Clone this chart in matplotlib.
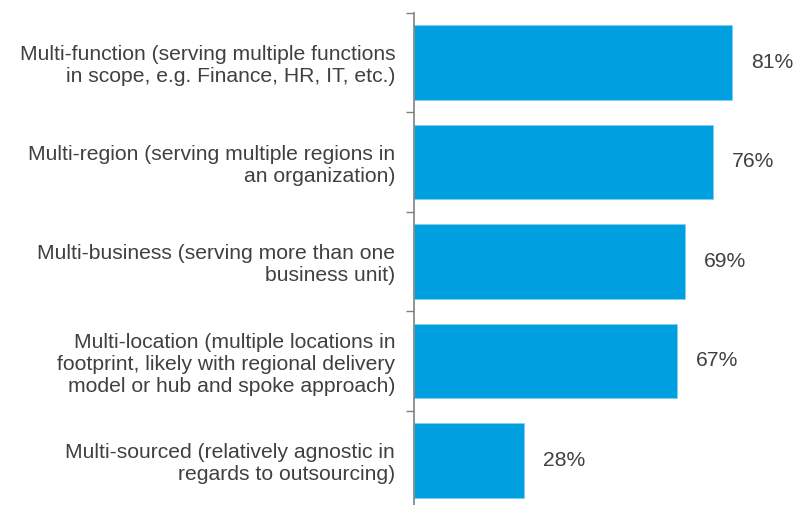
import numpy as np
import matplotlib
matplotlib.use("Agg")
import matplotlib.pyplot as plt

categories = [
    "Multi-function (serving multiple functions\nin scope, e.g. Finance, HR, IT, etc.)",
    "Multi-region (serving multiple regions in\nan organization)",
    "Multi-business (serving more than one\nbusiness unit)",
    "Multi-location (multiple locations in\nfootprint, likely with regional delivery\nmodel or hub and spoke approach)",
    "Multi-sourced (relatively agnostic in\nregards to outsourcing)",
]
values = [81, 76, 69, 67, 28]
labels = ["81%", "76%", "69%", "67%", "28%"]

plt.rcParams['font.family'] = ['Liberation Sans', 'DejaVu Sans']

fig = plt.figure(figsize=(8, 5.05), dpi=100)
ax = fig.add_axes([0.5175, -0.010, 0.491, 0.985])

y = np.arange(len(categories))
ax.barh(y, values, height=0.75, color="#00A0E0", edgecolor="#7FCFF0", linewidth=0.6)

for yi, v, lab in zip(y, values, labels):
    ax.annotate(lab, (v, yi), xytext=(13.7, 0), textcoords="offset points",
                va="center", ha="left", fontsize=15.2, color="#404040")

ax.set_xlim(0, 100)
ax.set_ylim(len(categories) - 0.5, -0.5)
ax.set_yticks(y)
ax.set_yticklabels(categories, fontsize=15.2, color="#404040")
ax.tick_params(axis="y", which="major", length=0, pad=13.5)
ax.set_yticks(np.arange(-0.5, len(categories), 1), minor=True)
ax.tick_params(axis="y", which="minor", length=6, width=1, color="#808080")
ax.set_xticks([])

for s in ["top", "right", "bottom"]:
    ax.spines[s].set_visible(False)
ax.spines["left"].set_color("#808080")
ax.spines["left"].set_linewidth(1.2)

fig.savefig("out.png", dpi=100)
